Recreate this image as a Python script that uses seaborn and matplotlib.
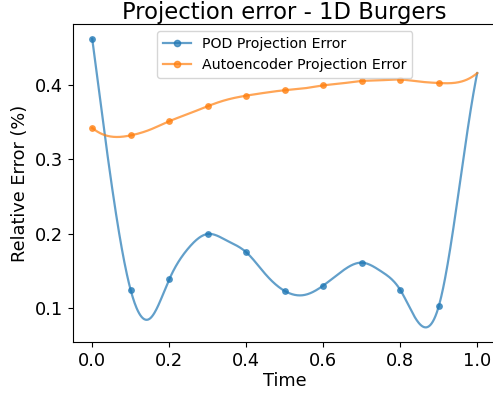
import numpy as np
import pandas as pd
import matplotlib
matplotlib.use("Agg")
import matplotlib.pyplot as plt
from matplotlib.lines import Line2D
import seaborn as sns

# curve samples (every 0.05); markers sit at every 0.1 (0.0 .. 0.9)
time = [0.0, 0.05, 0.1, 0.15, 0.2, 0.25, 0.3, 0.35, 0.4, 0.45, 0.5,
        0.55, 0.6, 0.65, 0.7, 0.75, 0.8, 0.85, 0.9, 0.95, 1.0]
pod_error = [0.462, 0.268, 0.1245, 0.0865, 0.139, 0.181, 0.200, 0.191, 0.1755, 0.146, 0.1235,
             0.118, 0.1307, 0.1504, 0.1615, 0.150, 0.125, 0.0795, 0.1027, 0.25, 0.4160]
ae_error = [0.3424, 0.3307, 0.3324, 0.340, 0.3514, 0.3613, 0.3716, 0.3803, 0.3857, 0.3897, 0.393,
            0.3955, 0.3995, 0.4023, 0.4054, 0.4064, 0.4073, 0.4046, 0.4027, 0.4036, 0.4160]
marker_times = [0.0, 0.1, 0.2, 0.3, 0.4, 0.5, 0.6, 0.7, 0.8, 0.9]
series_names = ["POD Projection Error", "Autoencoder Projection Error"]
colors = ["#1f77b4", "#ff7f0e"]


def not_a_knot_spline(x, y, xs):
    x = np.asarray(x, float); y = np.asarray(y, float)
    n = len(x); m = n - 1
    A = np.zeros((4 * m, 4 * m)); b = np.zeros(4 * m)
    r = 0
    for i in range(m):
        h = x[i + 1] - x[i]
        A[r, 4 * i] = 1; b[r] = y[i]; r += 1
        A[r, 4 * i:4 * i + 4] = [1, h, h * h, h ** 3]; b[r] = y[i + 1]; r += 1
    for i in range(m - 1):
        h = x[i + 1] - x[i]
        A[r, 4 * i:4 * i + 4] = [0, 1, 2 * h, 3 * h * h]; A[r, 4 * (i + 1) + 1] = -1; r += 1
        A[r, 4 * i:4 * i + 4] = [0, 0, 2, 6 * h]; A[r, 4 * (i + 1) + 2] = -2; r += 1
    A[r, 3] = 1; A[r, 7] = -1; r += 1
    A[r, 4 * (m - 2) + 3] = 1; A[r, 4 * (m - 1) + 3] = -1; r += 1
    c = np.linalg.solve(A, b).reshape(m, 4)
    idx = np.clip(np.searchsorted(x, xs, side="right") - 1, 0, m - 1)
    d = xs - x[idx]
    return c[idx, 0] + c[idx, 1] * d + c[idx, 2] * d ** 2 + c[idx, 3] * d ** 3


fig = plt.figure(figsize=(4.93, 3.97), dpi=100)
ax = fig.add_axes([0.148, 0.139, 0.859, 0.7995])

xs = np.linspace(time[0], time[-1], 600)
handles = []
for name, vals, col in zip(series_names, [pod_error, ae_error], colors):
    smooth = pd.DataFrame({"Time": xs, "err": not_a_knot_spline(time, vals, xs)})
    sns.lineplot(data=smooth, x="Time", y="err", ax=ax, color=col, alpha=0.7, lw=1.6)
    mk = [time.index(t) for t in marker_times]
    pts = pd.DataFrame({"Time": [time[i] for i in mk], "err": [vals[i] for i in mk]})
    sns.scatterplot(data=pts, x="Time", y="err", ax=ax, color=col, alpha=0.8, s=24,
                    edgecolor=col, linewidth=0)
    handles.append(Line2D([], [], color=col, alpha=0.7, lw=1.6, marker="o", markersize=4.5, label=name))

ax.set_title("Projection error - 1D Burgers", fontsize=16.3, pad=4)
ax.set_xlabel("Time", fontsize=12.8, labelpad=2)
ax.set_ylabel("Relative Error (%)", fontsize=12.8)
ax.tick_params(labelsize=12.8)
ax.set_xticks([0.0, 0.2, 0.4, 0.6, 0.8, 1.0])
ax.set_yticks([0.1, 0.2, 0.3, 0.4])
ax.legend(handles=handles, loc="upper center", fontsize=10.2)
fig.savefig("out.png", dpi=100)
